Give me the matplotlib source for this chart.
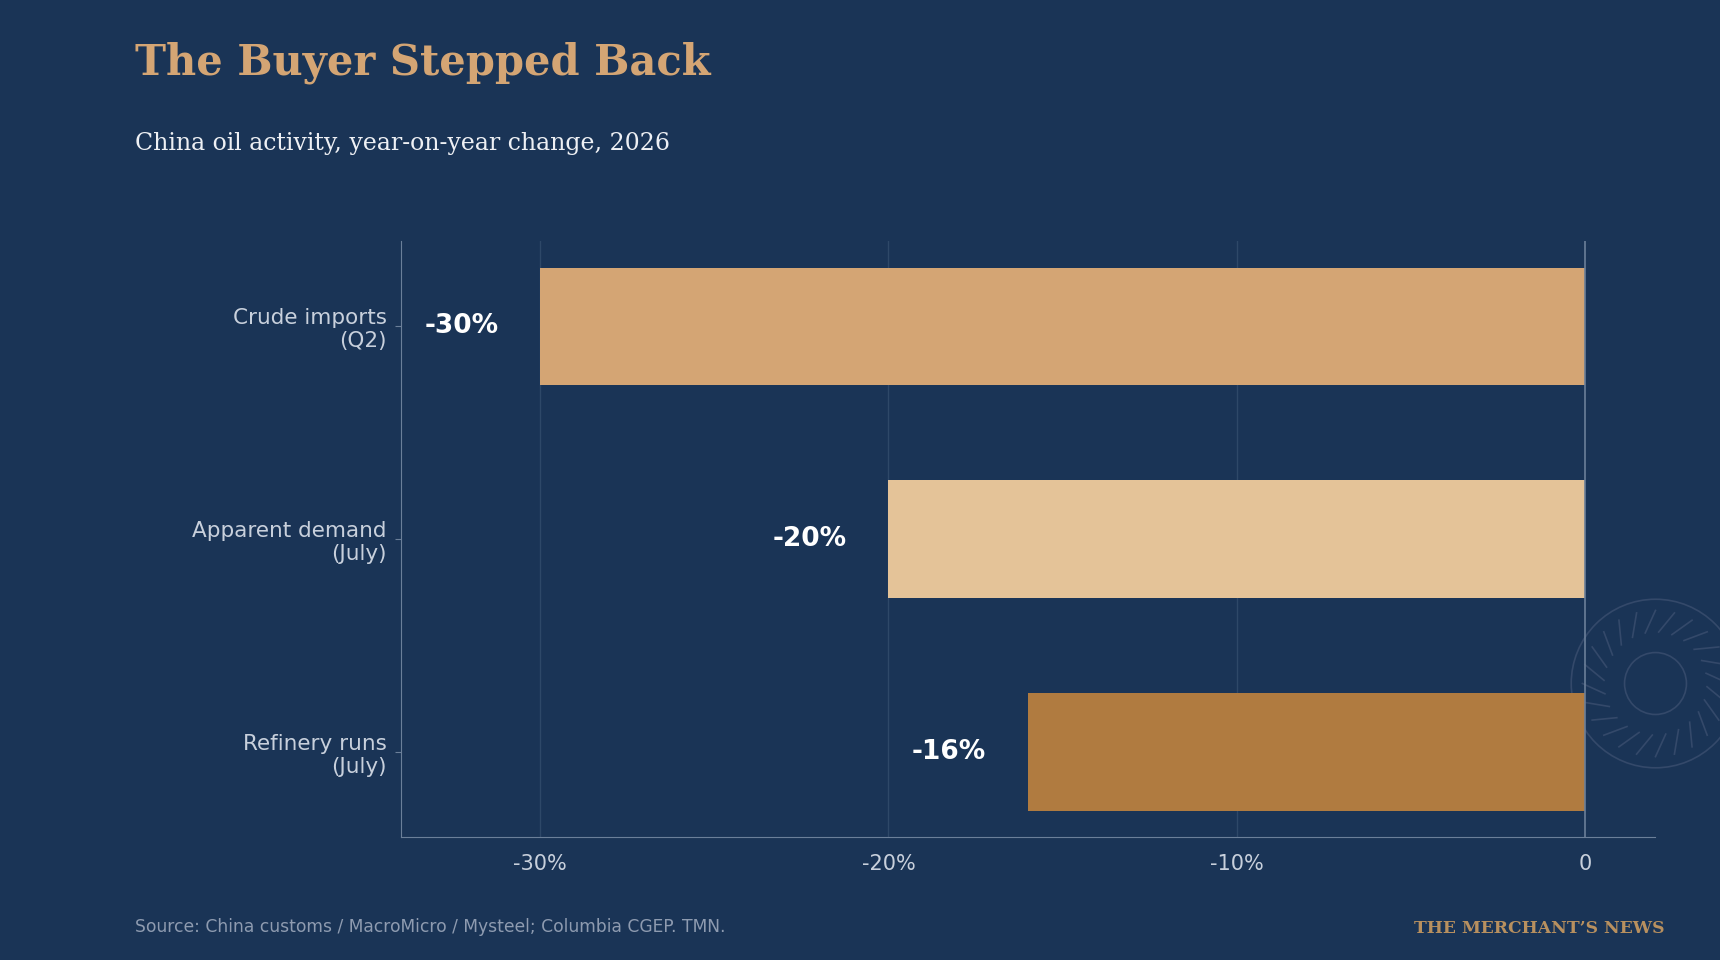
import numpy as np
import matplotlib.pyplot as plt
from matplotlib.patches import Circle

categories = ["Crude imports\n(Q2)", "Apparent demand\n(July)", "Refinery runs\n(July)"]
values = [-30, -20, -16]
colors = ["#D4A574", "#E4C398", "#B07B40"]
xticks = [-30, -20, -10, 0]
xticklabels = ["-30%", "-20%", "-10%", "0"]

bg = "#1A3456"
fig = plt.figure(figsize=(17.2, 9.6), dpi=100, facecolor=bg)

# faint emblem, drawn under the chart
emb = fig.add_axes([0.9625 - 0.05, 0.288 - 0.05 * 1720 / 960, 0.1, 0.1 * 1720 / 960])
emb.set_xlim(-1, 1)
emb.set_ylim(-1, 1)
emb.set_aspect("equal")
emb.axis("off")
ec = "#34496A"
emb.add_patch(Circle((0, 0), 0.36, fill=False, ec=ec, lw=1.2))
emb.add_patch(Circle((0, 0), 0.98, fill=False, ec=ec, lw=1.2))
for a in np.linspace(0, 2 * np.pi, 25)[:-1]:
    emb.plot([0.6 * np.cos(a + 0.2), 0.85 * np.cos(a)], [0.6 * np.sin(a + 0.2), 0.85 * np.sin(a)],
             color=ec, lw=1.2)

ax = fig.add_axes([0.233, 0.128, 0.729, 0.621], facecolor="none")

y = np.arange(len(categories))
ax.barh(y, values, height=0.55, color=colors, zorder=3)
ax.set_ylim(2.40, -0.40)
ax.set_xlim(-34, 2)
ax.set_yticks(y)
ax.set_yticklabels(categories, color="#C8D0DC", fontsize=15.5)
ax.set_xticks(xticks)
ax.set_xticklabels(xticklabels, color="#C8D0DC", fontsize=15)
ax.tick_params(axis="y", length=4, color="#6B7F99", pad=6)
ax.tick_params(axis="x", length=0, pad=12)
for x in xticks[:-1]:
    ax.axvline(x, color="#2E4868", lw=1, zorder=1)
ax.axvline(0, color="#6B7F99", lw=1.2, zorder=4)
for s in ["top", "right"]:
    ax.spines[s].set_visible(False)
for s in ["left", "bottom"]:
    ax.spines[s].set_color("#6B7F99")

for yi, v in zip(y, values):
    ax.annotate(f"{v}%", (v, yi), xytext=(-30, 0), textcoords="offset points",
                ha="right", va="center", color="white", fontsize=19, fontweight="bold", zorder=5)

fig.text(0.0785, 0.935, "The Buyer Stepped Back", family="DejaVu Serif", fontweight="bold",
         fontsize=30, color="#D4A574", va="center")
fig.text(0.0785, 0.851, "China oil activity, year-on-year change, 2026", family="DejaVu Serif",
         fontsize=17, color="#EEF0F4", va="center")
fig.text(0.0785, 0.034, "Source: China customs / MacroMicro / Mysteel; Columbia CGEP. TMN.",
         fontsize=12.3, color="#8E9BB0", va="center")
fig.text(0.968, 0.033, "THE MERCHANT\u2019S NEWS", family="DejaVu Serif", fontweight="bold",
         fontsize=12.3, color="#B8905F", ha="right", va="center")

fig.savefig("out.png", dpi=100, facecolor=bg)
